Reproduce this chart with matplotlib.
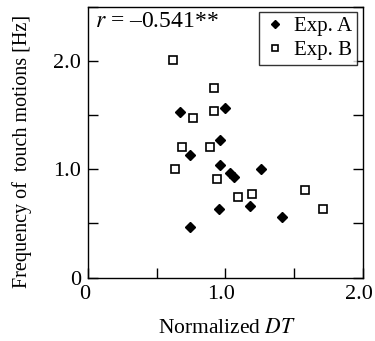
import matplotlib
matplotlib.use("Agg")
import matplotlib.pyplot as plt
import matplotlib.transforms as mtransforms

plt.rcParams['font.family'] = ['Liberation Serif', 'DejaVu Serif']
plt.rcParams['mathtext.fontset'] = 'stix'

# Exp. A (filled diamonds)
exp_a_x = [0.67, 1.00, 0.96, 0.74, 0.96, 1.03, 1.06, 1.26, 0.95, 1.18, 1.41, 0.74]
exp_a_y = [1.53, 1.57, 1.27, 1.13, 1.04, 0.97, 0.93, 1.00, 0.63, 0.66, 0.56, 0.47]

# Exp. B (open squares)
exp_b_x = [0.62, 0.92, 0.92, 0.76, 0.68, 0.89, 0.63, 0.94, 1.09, 1.19, 1.58, 1.71]
exp_b_y = [2.01, 1.75, 1.54, 1.47, 1.21, 1.21, 1.00, 0.91, 0.74, 0.77, 0.81, 0.63]

xticks = [0, 0.5, 1.0, 1.5, 2.0]
xticklabels = ['0', '', '1.0', '', '2.0']
yticks = [0, 0.5, 1.0, 1.5, 2.0, 2.5]
yticklabels = ['0', '', '1.0', '', '2.0', '']

fig = plt.figure(figsize=(3.75, 3.41), dpi=100)
ax = fig.add_axes([0.2355, 0.186, 0.7315, 0.794])

ax.plot(exp_a_x, exp_a_y, 'D', color='black', markersize=5.5, label='Exp. A')
ax.plot(exp_b_x, exp_b_y, 's', markerfacecolor='white', markeredgecolor='black',
        markeredgewidth=1.2, markersize=5.5, label='Exp. B')

ax.set_xlim(0, 2.0)
ax.set_ylim(0, 2.5)
ax.set_xticks(xticks)
ax.set_xticklabels(xticklabels)
ax.set_yticks(yticks)
ax.set_yticklabels(yticklabels)
ax.tick_params(direction='in', length=7, width=1, labelsize=16, right=True, pad=5)
for s in ax.spines.values():
    s.set_linewidth(1)

# x tick labels sit a little left of their ticks in the original
shift = mtransforms.ScaledTranslation(-4 / 100, 0, fig.dpi_scale_trans)
for lab in ax.get_xticklabels():
    lab.set_transform(lab.get_transform() + shift)

ax.set_xlabel('Normalized $DT$', fontsize=15.5)
ax.set_ylabel('Frequency of  touch motions [Hz]', fontsize=14.5)
ax.xaxis.set_label_coords(0.507, -0.152)
ax.yaxis.set_label_coords(-0.205, 0.467)

ax.text(0.025, 0.985, '$r$ = \u20130.541**', transform=ax.transAxes, fontsize=17,
        va='top', ha='left')

leg = ax.legend(loc='upper right', bbox_to_anchor=(0.979, 0.982), fontsize=15,
                frameon=True, fancybox=False, edgecolor='black', markerscale=0.7,
                handletextpad=0.4, handlelength=1.0, borderaxespad=0,
                borderpad=0.25, labelspacing=0.2)
leg.get_frame().set_linewidth(1)

fig.savefig('out.png', dpi=100)
